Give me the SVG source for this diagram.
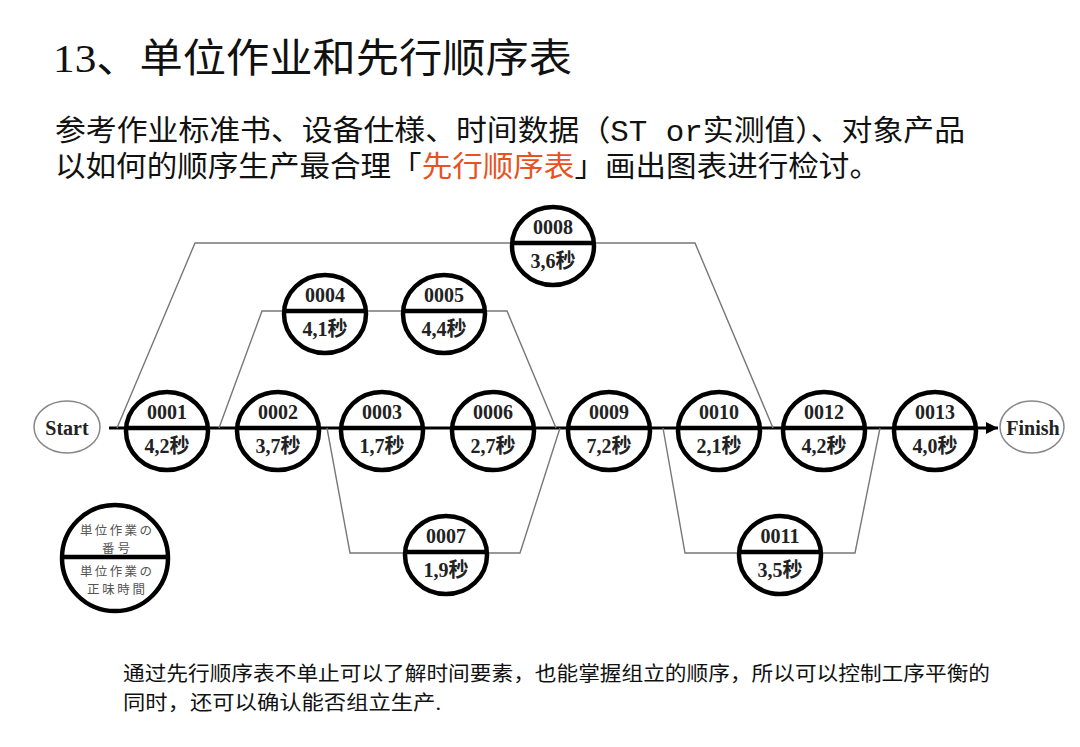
<svg xmlns="http://www.w3.org/2000/svg" width="1080" height="747" viewBox="0 0 1080 747">
<defs>
<style>
.title{font-family:"Liberation Serif","Noto Sans CJK SC",serif;font-size:40px;fill:#111}
.sub{font-family:"Liberation Mono","Noto Sans CJK SC",monospace;font-size:29px;fill:#111}
.red{fill:#e8521f}
.note{font-family:"Liberation Serif","Noto Sans CJK SC",serif;font-size:20px;fill:#111}
.node{fill:#fff;stroke:#000;stroke-width:4.5}
.div{stroke:#000;stroke-width:4.5}
.id{font-family:"Liberation Serif","Noto Sans CJK SC",serif;font-size:20px;font-weight:bold;fill:#222;text-anchor:middle}
.tm{font-family:"Liberation Serif","Noto Sans CJK SC",serif;font-size:20px;font-weight:bold;fill:#222;text-anchor:middle}
.term{fill:#fff;stroke:#888;stroke-width:1.5}
.termt{font-family:"Liberation Serif",serif;font-size:20px;font-weight:bold;fill:#222;text-anchor:middle}
.conn{fill:none;stroke:#777;stroke-width:1.4}
.main{fill:none;stroke:#000;stroke-width:3}
.leg{font-family:"Noto Sans CJK JP",sans-serif;font-size:12.5px;fill:#555;text-anchor:middle}
</style>
<marker id="arr" viewBox="0 0 10 10" refX="10" refY="5" markerWidth="4" markerHeight="4" orient="auto" markerUnits="strokeWidth">
<path d="M0,0 L10,5 L0,10 Z" fill="#000"/>
</marker>
</defs>
<rect width="1080" height="747" fill="#fff"/>

<g id="texts">
<text class="title" x="53" y="72" textLength="519" lengthAdjust="spacingAndGlyphs">13、单位作业和先行顺序表</text>
<text class="sub" x="55" y="141" textLength="910" lengthAdjust="spacingAndGlyphs">参考作业标准书、设备仕様、时间数据（ST or实测值）、对象产品</text>
<text class="sub" x="55" y="177" textLength="825" lengthAdjust="spacingAndGlyphs">以如何的顺序生产最合理「<tspan class="red">先行顺序表</tspan>」画出图表进行检讨。</text>
<text class="note" x="123" y="681" textLength="867" lengthAdjust="spacingAndGlyphs">通过先行顺序表不单止可以了解时间要素，也能掌握组立的顺序，所以可以控制工序平衡的</text>
<text class="note" x="123" y="710" textLength="318" lengthAdjust="spacingAndGlyphs">同时，还可以确认能否组立生产.</text>
</g>

<g id="connectors">
<path class="main" d="M109,428 H998" marker-end="url(#arr)"/>
<path class="conn" d="M117,428 L195,243 H695 L773,428"/>
<path class="conn" d="M219,428 L262,311 H507 L556,428"/>
<path class="conn" d="M327,428 L350,553 H520 L560,428"/>
<path class="conn" d="M663,428 L685,553 H855 L880,428"/>
</g>

<g id="start"><ellipse class="term" cx="67" cy="427" rx="33" ry="26"/><text class="termt" x="67" y="435">Start</text></g>
<g id="finish"><ellipse class="term" cx="1032" cy="427" rx="32" ry="26"/><text class="termt" x="1033" y="435">Finish</text></g>

<g id="n0001"><ellipse class="node" cx="167" cy="431" rx="41" ry="39"/><line class="div" x1="126" y1="428" x2="208" y2="428"/><text class="id" x="167" y="419">0001</text><text class="tm" x="167" y="453">4,2秒</text></g>
<g id="n0002"><ellipse class="node" cx="278" cy="431" rx="41" ry="39"/><line class="div" x1="237" y1="428" x2="319" y2="428"/><text class="id" x="278" y="419">0002</text><text class="tm" x="278" y="453">3,7秒</text></g>
<g id="n0003"><ellipse class="node" cx="382" cy="431" rx="41" ry="39"/><line class="div" x1="341" y1="428" x2="423" y2="428"/><text class="id" x="382" y="419">0003</text><text class="tm" x="382" y="453">1,7秒</text></g>
<g id="n0006"><ellipse class="node" cx="493" cy="431" rx="41" ry="39"/><line class="div" x1="452" y1="428" x2="534" y2="428"/><text class="id" x="493" y="419">0006</text><text class="tm" x="493" y="453">2,7秒</text></g>
<g id="n0009"><ellipse class="node" cx="609" cy="431" rx="41" ry="39"/><line class="div" x1="568" y1="428" x2="650" y2="428"/><text class="id" x="609" y="419">0009</text><text class="tm" x="609" y="453">7,2秒</text></g>
<g id="n0010"><ellipse class="node" cx="719" cy="431" rx="41" ry="39"/><line class="div" x1="678" y1="428" x2="760" y2="428"/><text class="id" x="719" y="419">0010</text><text class="tm" x="719" y="453">2,1秒</text></g>
<g id="n0012"><ellipse class="node" cx="824" cy="431" rx="41" ry="39"/><line class="div" x1="783" y1="428" x2="865" y2="428"/><text class="id" x="824" y="419">0012</text><text class="tm" x="824" y="453">4,2秒</text></g>
<g id="n0013"><ellipse class="node" cx="935" cy="431" rx="41" ry="39"/><line class="div" x1="894" y1="428" x2="976" y2="428"/><text class="id" x="935" y="419">0013</text><text class="tm" x="935" y="453">4,0秒</text></g>

<g id="n0004"><ellipse class="node" cx="325" cy="314" rx="41" ry="39"/><line class="div" x1="284" y1="311" x2="366" y2="311"/><text class="id" x="325" y="302">0004</text><text class="tm" x="325" y="336">4,1秒</text></g>
<g id="n0005"><ellipse class="node" cx="444" cy="314" rx="41" ry="39"/><line class="div" x1="403" y1="311" x2="485" y2="311"/><text class="id" x="444" y="302">0005</text><text class="tm" x="444" y="336">4,4秒</text></g>
<g id="n0008"><ellipse class="node" cx="553" cy="246" rx="41" ry="39"/><line class="div" x1="512" y1="243" x2="594" y2="243"/><text class="id" x="553" y="234">0008</text><text class="tm" x="553" y="268">3,6秒</text></g>
<g id="n0007"><ellipse class="node" cx="446" cy="555" rx="41" ry="39"/><line class="div" x1="405" y1="552" x2="487" y2="552"/><text class="id" x="446" y="543">0007</text><text class="tm" x="446" y="577">1,9秒</text></g>
<g id="n0011"><ellipse class="node" cx="780" cy="555" rx="41" ry="39"/><line class="div" x1="739" y1="552" x2="821" y2="552"/><text class="id" x="780" y="543">0011</text><text class="tm" x="780" y="577">3,5秒</text></g>

<g id="legend"><ellipse class="node" cx="115" cy="558" rx="53" ry="53"/><line class="div" x1="62" y1="557" x2="168" y2="557"/>
<text class="leg" x="116" y="535" textLength="72" lengthAdjust="spacing">単位作業の</text><text class="leg" x="116" y="553" textLength="28" lengthAdjust="spacing">番号</text>
<text class="leg" x="116" y="576" textLength="72" lengthAdjust="spacing">単位作業の</text><text class="leg" x="116" y="594" textLength="58" lengthAdjust="spacing">正味時間</text></g>
</svg>
